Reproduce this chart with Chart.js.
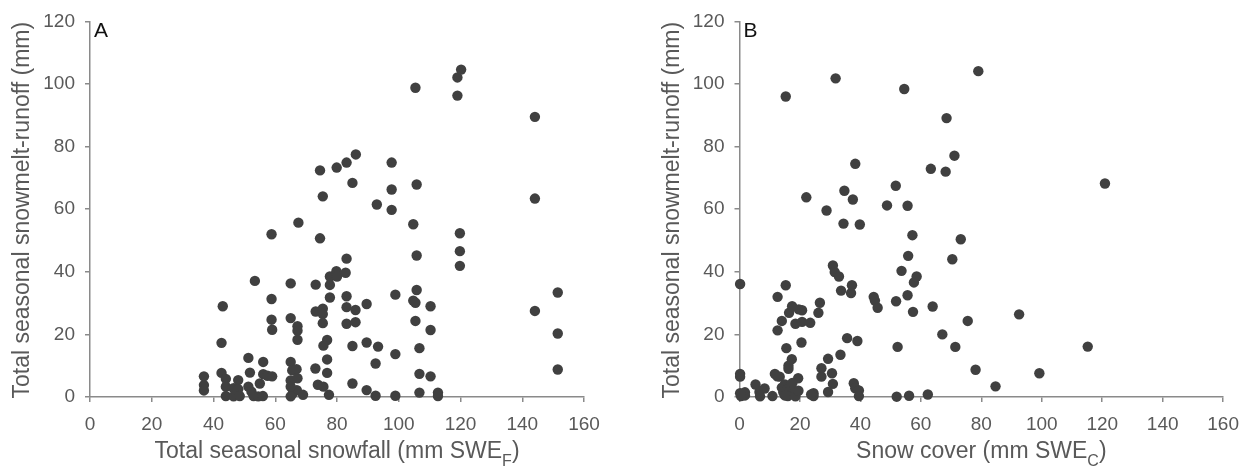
<!DOCTYPE html>
<html>
<head>
<meta charset="utf-8">
<script src="https://cdn.jsdelivr.net/npm/chart.js@4.4.1/dist/chart.umd.min.js"></script>
<style>
  body { margin: 0; background: #fff; }
  .wrap { position: absolute; top: 0; width: 625px; height: 466px; }
</style>
</head>
<body>
<div class="wrap" style="left:0"><canvas id="chartA" width="625" height="466"></canvas></div>
<div class="wrap" style="left:625px"><canvas id="chartB" width="625" height="466"></canvas></div>
<script>
// Panel A: total seasonal snowfall (mm SWE_F) vs runoff (mm)
const snowfallA = [
    36.9, 36.9, 36.9, 43, 42.6, 42.6, 44, 44, 44, 46.5,
    48, 48, 46.5, 48.5, 51.3, 51.8, 51.3, 52.3, 53, 54.5,
    56, 53.4, 56.1, 56.1, 55, 57.5, 59, 58.8, 58.8, 58.8,
    59, 65, 65, 65, 65.5, 66.9, 65, 67.2, 67.2, 67.2,
    67.2, 67.5, 65.7, 67, 69, 65, 65, 73.1, 73, 73.1,
    75.4, 75.4, 73.8, 75.6, 75.4, 74.5, 75.4, 76.8, 75.6, 76.8,
    76.8, 77.4, 77.7, 77.7, 77.7, 79.8, 80, 82.8, 83.1, 83.1,
    83.1, 83.1, 86, 86, 85, 85, 89.6, 89.6, 89.6, 92.5,
    92.5, 93.3, 85, 92.9, 74.5, 79.9, 83.1, 86.1, 97.7, 97.7,
    97.7, 105.4, 119, 120.2, 119, 144.1, 105.8, 104.7, 119.8, 119.8,
    119.8, 144.1, 105.8, 105.8, 98.9, 104.7, 105.4, 110.3, 105.4, 110.3,
    151.5, 144.1, 151.5, 151.5, 98.9, 106.7, 106.7, 110.3, 98.9, 106.7,
    112.7, 112.7
];
const runoffA = [
    6.6, 3.8, 2.1, 29, 17.3, 7.7, 5.8, 3.3, 0.3, 2.8,
    5.4, 2.5, 0.2, 0.3, 12.5, 7.8, 3.3, 1.7, 0.3, 0.2,
    0.3, 37.1, 11.2, 7.3, 4.3, 6.8, 6.6, 52, 31.3, 24.7,
    21.5, 36.3, 25.2, 11.2, 8.5, 8.9, 5.3, 6, 22.6, 21.2,
    18.3, 55.7, 1.2, 2.2, 0.7, 0.2, 3.3, 35.9, 9.1, 27.3,
    28.2, 26.5, 3.9, 3.3, 64.1, 50.7, 23.6, 18.2, 16.4, 12,
    7.7, 0.7, 38.5, 35.8, 31.8, 40.2, 38.5, 39.7, 44.2, 32.2,
    28.7, 23.4, 27.8, 23.9, 16.3, 4.3, 29.7, 17.4, 2.2, 10.7,
    0.4, 16.1, 68.4, 61.5, 72.4, 73.3, 74.9, 77.5, 74.9, 66.3,
    59.8, 98.8, 102.1, 104.6, 96.3, 89.5, 67.9, 55.2, 52.3, 46.6,
    41.9, 63.4, 45.2, 34.2, 32.7, 30.8, 30.1, 29, 24.3, 21.4,
    33.4, 27.5, 20.3, 8.8, 13.7, 15.6, 7.4, 6.6, 0.4, 1.4,
    1.4, 0.3
];

// Panel B: snow cover (mm SWE_C) vs runoff (mm)
const snowCoverB = [
    0.2, 0.2, 0.2, 0.2, 1.8, 1.8, 0.5, 5.3, 6.6, 8.3,
    6.8, 10.9, 12.6, 12.6, 14, 11.7, 13.3, 12.5, 15.3, 15.3,
    15.5, 16.2, 17.3, 16.2, 16.4, 17.4, 18.5, 20.7, 23.4, 20.7,
    19.6, 20.5, 19.4, 14, 15, 14.5, 16, 17, 18, 16,
    18.5, 19.5, 15, 17.5, 22.1, 26.1, 26.6, 24.5, 24.5, 23.7,
    27.1, 27.1, 29.3, 28.8, 30.9, 31.5, 32.9, 31.8, 30.6, 30.9,
    29.3, 33.6, 33.4, 34.4, 34.7, 35.6, 36.9, 37.2, 37.5, 38.3,
    39.8, 39, 37.8, 38.3, 39.5, 39.5, 44.4, 44.8, 45.7, 48.8,
    51.7, 51.8, 52.3, 53.6, 54.5, 55.6, 55.8, 55.6, 57.2, 57.7,
    58.6, 57.4, 52, 56.1, 62.3, 63.3, 68.5, 68.2, 71.1, 79,
    63.9, 73.2, 70.4, 67.1, 71.4, 75.5, 78.1, 84.7, 92.5, 99.2,
    115.2, 120.9
];
const runoffB = [
    36.1, 7.4, 6.5, 1.2, 0.5, 1.5, 0.3, 4, 1.6, 2.7,
    0.2, 0.3, 32, 21.3, 24.3, 7.4, 6.5, 6.6, 96, 35.7,
    15.6, 10, 12.1, 9, 26.9, 29, 23.4, 24, 23.7, 27.7,
    28, 17.4, 6, 3, 4, 1.5, 2.5, 3.5, 1, 0.3,
    0.2, 2, 0.5, 4.5, 63.8, 26.9, 30.1, 1.2, 0.3, 0.8,
    9.2, 6.5, 12.2, 59.6, 42, 39.9, 38.5, 101.8, 7.6, 4.2,
    1.6, 34, 13.5, 55.4, 65.9, 18.8, 33.2, 35.7, 63.1, 74.5,
    55.1, 17.9, 4.4, 2.8, 2.1, 0.3, 32, 30.8, 28.5, 61.2,
    67.5, 30.6, 16, 40.3, 98.4, 61.1, 45.1, 32.5, 51.7, 36.6,
    38.5, 27.2, 0.1, 0.4, 0.8, 72.9, 89.1, 72, 77.1, 104.1,
    28.9, 50.4, 44, 20, 16, 24.3, 8.7, 3.4, 26.4, 7.6,
    16.1, 68.2
];

const xTicks = [0, 20, 40, 60, 80, 100, 120, 140, 160];
const yTicks = [0, 20, 40, 60, 80, 100, 120];

const AXIS = '#8a8a8a';
const TEXT = '#595959';
const FONT = "'Liberation Sans', Arial, sans-serif";

// draws the axis titles (with subscript) and the panel letter
const titlesPlugin = {
    id: 'titles',
    afterDraw(chart, args, opts) {
        const ctx = chart.ctx;
        const area = chart.chartArea;
        ctx.save();
        ctx.fillStyle = TEXT;

        // y title
        ctx.font = '23px ' + FONT;
        ctx.textAlign = 'center';
        ctx.textBaseline = 'middle';
        ctx.translate(opts.yTitleX, (area.top + area.bottom) / 2 + 1);
        ctx.rotate(-Math.PI / 2);
        ctx.fillText('Total seasonal snowmelt-runoff (mm)', 0, 0);
        ctx.setTransform(1, 0, 0, 1, 0, 0);

        // x title with subscript
        const main = opts.xTitle;
        ctx.font = '23px ' + FONT;
        const w1 = ctx.measureText(main).width;
        const w3 = ctx.measureText(')').width;
        ctx.font = '16px ' + FONT;
        const w2 = ctx.measureText(opts.sub).width;
        let x = (area.left + area.right) / 2 - (w1 + w2 + w3) / 2;
        const base = 458;
        ctx.textAlign = 'left';
        ctx.textBaseline = 'alphabetic';
        ctx.font = '23px ' + FONT;
        ctx.fillText(main, x, base);
        ctx.font = '16px ' + FONT;
        ctx.fillText(opts.sub, x + w1, base + 8);
        ctx.font = '23px ' + FONT;
        ctx.fillText(')', x + w1 + w2, base);

        // panel letter
        ctx.fillStyle = '#111';
        ctx.font = '21px ' + FONT;
        ctx.fillText(opts.letter, area.left + 4, 37);
        ctx.restore();
    }
};

function makeChart(id, xs, ys, yAxisWidth, padRight, opts) {
    const pts = xs.map((v, i) => ({ x: v, y: ys[i] }));
    return new Chart(document.getElementById(id), {
        type: 'scatter',
        data: {
            datasets: [{
                data: pts,
                pointRadius: 5.2,
                pointHoverRadius: 5.2,
                backgroundColor: '#404040',
                borderWidth: 0,
                clip: false
            }]
        },
        options: {
            responsive: false,
            animation: false,
            layout: { padding: { top: 19, right: padRight, bottom: 0, left: 0 } },
            plugins: {
                legend: { display: false },
                tooltip: { enabled: false },
                titles: opts
            },
            scales: {
                x: {
                    type: 'linear',
                    min: xTicks[0],
                    max: xTicks[xTicks.length - 1],
                    afterBuildTicks: s => { s.ticks = xTicks.map(v => ({ value: v })); },
                    afterFit: s => { s.height = 69; },
                    grid: { display: true, drawOnChartArea: false, drawTicks: true, tickLength: 5, color: AXIS, lineWidth: 1.5 },
                    border: { color: AXIS, width: 1.5 },
                    ticks: { color: TEXT, font: { family: FONT, size: 19 }, padding: 11, maxRotation: 0 }
                },
                y: {
                    type: 'linear',
                    min: yTicks[0],
                    max: yTicks[yTicks.length - 1],
                    afterBuildTicks: s => { s.ticks = yTicks.map(v => ({ value: v })); },
                    afterFit: s => { s.width = yAxisWidth; },
                    grid: { display: true, drawOnChartArea: false, drawTicks: true, tickLength: 5, color: AXIS, lineWidth: 1.5 },
                    border: { color: AXIS, width: 1.5 },
                    ticks: { color: TEXT, font: { family: FONT, size: 19 }, padding: 10 }
                }
            }
        },
        plugins: [titlesPlugin]
    });
}

makeChart('chartA', snowfallA, runoffA, 90, 41,
    { xTitle: 'Total seasonal snowfall (mm SWE', sub: 'F', letter: 'A', yTitleX: 23 });
makeChart('chartB', snowCoverB, runoffB, 114.5, 16.7,
    { xTitle: 'Snow cover (mm SWE', sub: 'C', letter: 'B', yTitleX: 48 });
</script>
</body>
</html>
